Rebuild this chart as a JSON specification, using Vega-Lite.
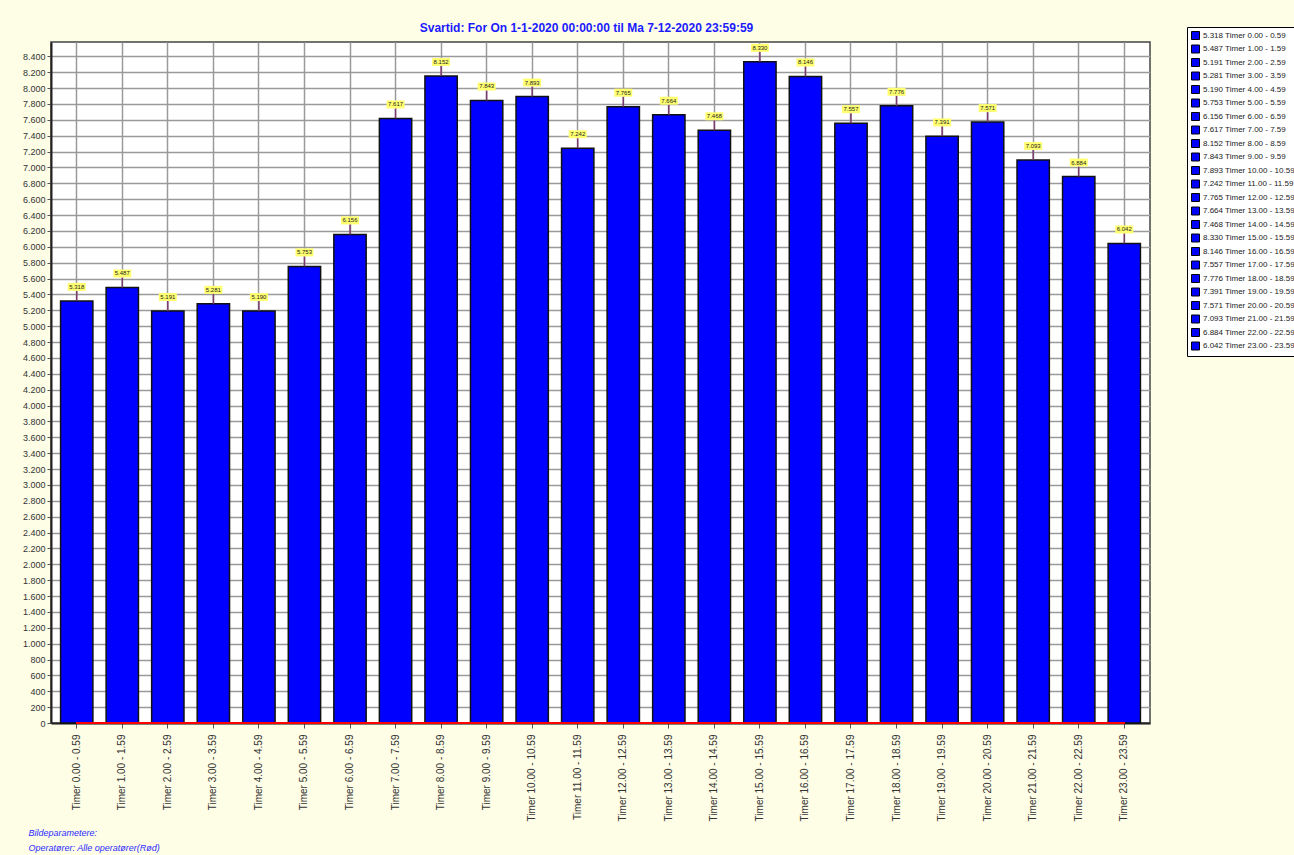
{
  "$schema": "https://vega.github.io/schema/vega-lite/v6.json",
  "autosize": {"type": "none"},
  "width": 1099,
  "height": 681,
  "padding": {"left": 51, "top": 42, "right": 144, "bottom": 132},
  "background": "#fefde6",
  "title": {
    "text": "Svartid: For On 1-1-2020 00:00:00 til Ma 7-12-2020 23:59:59",
    "font": "Liberation Sans",
    "fontSize": 12,
    "fontWeight": "bold",
    "color": "#1a1aff",
    "anchor": "middle",
    "frame": "group",
    "baseline": "bottom",
    "offset": 9,
    "dx": -14,
    "dy": 29
  },
  "data": {
    "values": [
      {"timer": "Timer 0.00 - 0.59", "value": 5318, "legend": "5.318 Timer 0.00 - 0.59"},
      {"timer": "Timer 1.00 - 1.59", "value": 5487, "legend": "5.487 Timer 1.00 - 1.59"},
      {"timer": "Timer 2.00 - 2.59", "value": 5191, "legend": "5.191 Timer 2.00 - 2.59"},
      {"timer": "Timer 3.00 - 3.59", "value": 5281, "legend": "5.281 Timer 3.00 - 3.59"},
      {"timer": "Timer 4.00 - 4.59", "value": 5190, "legend": "5.190 Timer 4.00 - 4.59"},
      {"timer": "Timer 5.00 - 5.59", "value": 5753, "legend": "5.753 Timer 5.00 - 5.59"},
      {"timer": "Timer 6.00 - 6.59", "value": 6156, "legend": "6.156 Timer 6.00 - 6.59"},
      {"timer": "Timer 7.00 - 7.59", "value": 7617, "legend": "7.617 Timer 7.00 - 7.59"},
      {"timer": "Timer 8.00 - 8.59", "value": 8152, "legend": "8.152 Timer 8.00 - 8.59"},
      {"timer": "Timer 9.00 - 9.59", "value": 7843, "legend": "7.843 Timer 9.00 - 9.59"},
      {"timer": "Timer 10.00 - 10.59", "value": 7893, "legend": "7.893 Timer 10.00 - 10.59"},
      {"timer": "Timer 11.00 - 11.59", "value": 7242, "legend": "7.242 Timer 11.00 - 11.59"},
      {"timer": "Timer 12.00 - 12.59", "value": 7765, "legend": "7.765 Timer 12.00 - 12.59"},
      {"timer": "Timer 13.00 - 13.59", "value": 7664, "legend": "7.664 Timer 13.00 - 13.59"},
      {"timer": "Timer 14.00 - 14.59", "value": 7468, "legend": "7.468 Timer 14.00 - 14.59"},
      {"timer": "Timer 15.00 - 15.59", "value": 8330, "legend": "8.330 Timer 15.00 - 15.59"},
      {"timer": "Timer 16.00 - 16.59", "value": 8146, "legend": "8.146 Timer 16.00 - 16.59"},
      {"timer": "Timer 17.00 - 17.59", "value": 7557, "legend": "7.557 Timer 17.00 - 17.59"},
      {"timer": "Timer 18.00 - 18.59", "value": 7776, "legend": "7.776 Timer 18.00 - 18.59"},
      {"timer": "Timer 19.00 - 19.59", "value": 7391, "legend": "7.391 Timer 19.00 - 19.59"},
      {"timer": "Timer 20.00 - 20.59", "value": 7571, "legend": "7.571 Timer 20.00 - 20.59"},
      {"timer": "Timer 21.00 - 21.59", "value": 7093, "legend": "7.093 Timer 21.00 - 21.59"},
      {"timer": "Timer 22.00 - 22.59", "value": 6884, "legend": "6.884 Timer 22.00 - 22.59"},
      {"timer": "Timer 23.00 - 23.59", "value": 6042, "legend": "6.042 Timer 23.00 - 23.59"}
    ]
  },
  "encoding": {
    "x": {
      "field": "timer",
      "type": "nominal",
      "sort": null,
      "scale": {"paddingInner": 0.29, "paddingOuter": 0.21},
      "axis": {
        "labelAngle": 270,
        "labelAlign": "right",
        "labelBaseline": "middle",
        "labelFont": "Liberation Sans",
        "labelFontSize": 10,
        "labelColor": "#333333",
        "labelPadding": 6,
        "tickSize": 5,
        "tickColor": "#555555",
        "domainColor": "#222222",
        "domainWidth": 2,
        "grid": true,
        "bandPosition": 0.5,
        "gridColor": "#9a9a9a",
        "gridWidth": 1.5,
        "title": ["Bildeparametere:", "Operatører: Alle operatører(Rød)"],
        "titleFont": "Liberation Sans",
        "titleFontSize": 9,
        "titleFontWeight": "normal",
        "titleFontStyle": "italic",
        "titleColor": "#2a2aff",
        "titleAnchor": "start",
        "titleAlign": "left",
        "titleBaseline": "alphabetic",
        "titleX": -23,
        "titleY": 112,
        "titleLineHeight": 15
      }
    },
    "y": {
      "field": "value",
      "type": "quantitative",
      "scale": {"domain": [0, 8580], "nice": false},
      "axis": {
        "values": [0,200,400,600,800,1000,1200,1400,1600,1800,2000,2200,2400,2600,2800,3000,3200,3400,3600,3800,4000,4200,4400,4600,4800,5000,5200,5400,5600,5800,6000,6200,6400,6600,6800,7000,7200,7400,7600,7800,8000,8200,8400],
        "format": ",d",
        "labelOverlap": false,
        "labelFlush": false,
        "labelFont": "Liberation Sans",
        "labelFontSize": 9,
        "labelColor": "#333333",
        "labelPadding": 2,
        "tickSize": 4,
        "tickColor": "#555555",
        "domainColor": "#222222",
        "domainWidth": 2,
        "grid": true,
        "gridColor": "#9a9a9a",
        "gridWidth": 1.5,
        "title": null
      }
    }
  },
  "layer": [
    {
      "mark": {"type": "bar", "stroke": "#111111", "strokeWidth": 1.5},
      "encoding": {
        "color": {
          "field": "legend",
          "type": "nominal",
          "sort": null,
          "scale": {"range": ["#0000ff"]},
          "legend": {
            "orient": "none",
            "legendX": 1136,
            "legendY": -15,
            "title": null,
            "symbolType": "square",
            "symbolSize": 64,
            "symbolFillColor": "#0000ff",
            "symbolStrokeColor": "#000000",
            "symbolStrokeWidth": 1,
            "symbolOpacity": 1,
            "labelFont": "Liberation Sans",
            "labelFontSize": 8,
            "labelColor": "#222222",
            "labelOffset": 3,
            "labelLimit": 200,
            "rowPadding": 0.5,
            "padding": 4,
            "fillColor": "#ffffff",
            "strokeColor": "#000000",
            "cornerRadius": 0
          }
        }
      }
    },
    {
      "mark": {"type": "rule", "color": "#7a3a70", "strokeWidth": 1.5, "y2Offset": -10},
      "encoding": {
        "y2": {"field": "value"}
      }
    },
    {
      "mark": {"type": "bar", "width": 18, "color": "#ffff70", "yOffset": -18, "y2Offset": -10},
      "encoding": {
        "y2": {"field": "value"}
      }
    },
    {
      "mark": {"type": "text", "fontSize": 6, "font": "Liberation Sans", "color": "#222222", "baseline": "middle", "yOffset": -14},
      "encoding": {
        "text": {"field": "value", "type": "quantitative", "format": ",d"}
      }
    },
    {
      "mark": {"type": "rule", "color": "#ff0000", "strokeWidth": 2},
      "encoding": {
        "x": {"datum": "Timer 0.00 - 0.59"},
        "x2": {"datum": "Timer 23.00 - 23.59"},
        "y": {"datum": 0, "type": "quantitative"}
      }
    }
  ],
  "config": {
    "locale": {"number": {"decimal": ",", "thousands": ".", "grouping": [3], "currency": ["", " kr"]}},
    "view": {"fill": "#ffffff", "stroke": "#444444", "strokeWidth": 1.5}
  }
}
